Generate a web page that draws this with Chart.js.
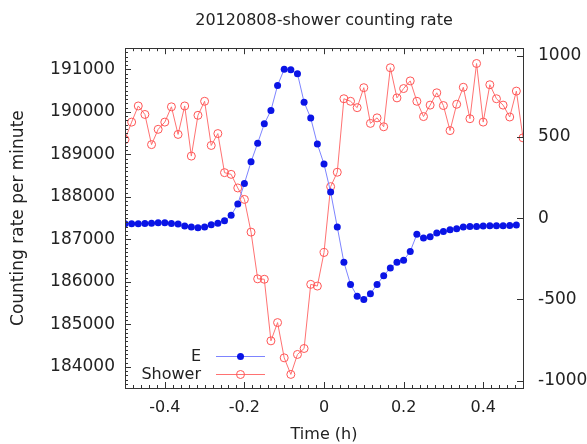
<!DOCTYPE html>
<html>
<head>
<meta charset="utf-8">
<title>Shower counting rate</title>
<script src="https://cdn.jsdelivr.net/npm/chart.js@4/dist/chart.umd.min.js"></script>
<style>
  html, body { margin: 0; padding: 0; background: #fff; }
</style>
</head>
<body>
<canvas id="rate-chart" width="587" height="444"></canvas>
<script>
// minutes relative to the event, one sample per minute
var minutes = [-30, -29, -28, -27, -26, -25, -24, -23, -22, -21,
               -20, -19, -18, -17, -16, -15, -14, -13, -12, -11,
               -10, -9, -8, -7, -6, -5, -4, -3, -2, -1,
               0, 1, 2, 3, 4, 5, 6, 7, 8, 9,
               10, 11, 12, 13, 14, 15, 16, 17, 18, 19,
               20, 21, 22, 23, 24, 25, 26, 27, 28, 29,
               30];

// shower counts per minute (left axis)
var showerRate = [189350, 189760, 190140, 189940, 189230, 189590, 189760, 190120, 189470, 190140,
                  188960, 189920, 190250, 189210, 189490, 188570, 188530, 188210, 187940, 187170,
                  186070, 186060, 184610, 185040, 184210, 183820, 184290, 184430, 185940, 185900,
                  186690, 188240, 188580, 190310, 190250, 190100, 190570, 189730, 189860, 189650,
                  191040, 190330, 190550, 190730, 190250, 189890, 190160, 190450, 190150, 189560,
                  190180, 190580, 189840, 191140, 189760, 190640, 190310, 190160, 189880, 190490,
                  189390];

// field E (right axis), minutes -30 .. 29
var fieldE = [-34, -34, -34, -33, -31, -28, -28, -33, -37, -49,
              -55, -59, -55, -41, -31, -17, 17, 86, 213, 346,
              461, 580, 662, 816, 915, 912, 888, 713, 615, 455,
              332, 160, -55, -272, -408, -481, -500, -465, -408, -354,
              -307, -271, -260, -205, -100, -122, -114, -91, -82, -71,
              -65, -55, -51, -51, -49, -47, -47, -47, -45, -43];

var timeTicks = [-0.4, -0.2, 0, 0.2, 0.4];
var rateTicks = [184000, 185000, 186000, 187000, 188000, 189000, 190000, 191000];
var fieldTicks = [-1000, -500, 0, 500, 1000];

var FONT = 'DejaVu Sans';
Chart.defaults.font.family = FONT;
Chart.defaults.color = '#222';

function toPoints(vals) {
  var pts = [];
  for (var i = 0; i < vals.length; i++) {
    pts.push({ x: minutes[i] / 60, y: vals[i] });
  }
  return pts;
}

function fixedTicks(list) {
  return function(scale) {
    scale.ticks = list.map(function(v) { return { value: v }; });
  };
}

// box around the plot with small inward ticks, gnuplot style
var frameTicks = {
  id: 'frameTicks',
  afterDraw: function(chart) {
    var ctx = chart.ctx, a = chart.chartArea;
    var sx = chart.scales.x, sl = chart.scales.rate, sr = chart.scales.field;
    var i, p, len;
    ctx.save();
    ctx.strokeStyle = '#333';
    ctx.lineWidth = 1;
    ctx.beginPath();
    // time axis, bottom and top: minor every 0.02 h
    for (i = -25; i <= 25; i++) {
      p = Math.round(sx.getPixelForValue(i / 50)) + 0.5;
      len = (i % 10 === 0) ? 6 : 3;
      ctx.moveTo(p, a.bottom); ctx.lineTo(p, a.bottom - len);
      ctx.moveTo(p, a.top); ctx.lineTo(p, a.top + len);
    }
    // counting rate axis: minor every 100
    for (i = sl.min; i <= sl.max; i += 100) {
      p = Math.round(sl.getPixelForValue(i)) + 0.5;
      len = (i % 1000 === 0) ? 6 : 3;
      ctx.moveTo(a.left, p); ctx.lineTo(a.left + len, p);
    }
    // field axis: majors only
    fieldTicks.forEach(function(v) {
      p = Math.round(sr.getPixelForValue(v)) + 0.5;
      ctx.moveTo(a.right, p); ctx.lineTo(a.right - 6, p);
    });
    ctx.stroke();
    ctx.strokeRect(Math.round(a.left) + 0.5, Math.round(a.top) + 0.5,
                   Math.round(a.right - a.left), Math.round(a.bottom - a.top));
    ctx.restore();
  }
};

// key in the lower left corner, text right-justified before the sample
var insideKey = {
  id: 'insideKey',
  afterDraw: function(chart) {
    var ctx = chart.ctx, a = chart.chartArea;
    var textRight = a.left + 76, x0 = a.left + 91, x1 = a.left + 140;
    var rows = [a.bottom - 32, a.bottom - 14];
    ctx.save();
    ctx.font = '16px "' + FONT + '"';
    ctx.textAlign = 'right';
    ctx.textBaseline = 'middle';
    chart.data.datasets.forEach(function(ds, i) {
      var y = rows[i], xm = (x0 + x1) / 2;
      ctx.fillStyle = '#222';
      ctx.fillText(ds.label, textRight, y + 1);
      ctx.strokeStyle = ds.borderColor;
      ctx.lineWidth = ds.borderWidth;
      ctx.beginPath();
      ctx.moveTo(x0, y + 0.5); ctx.lineTo(x1, y + 0.5);
      ctx.stroke();
      ctx.beginPath();
      ctx.arc(xm, y + 0.5, ds.pointRadius, 0, Math.PI * 2);
      ctx.fillStyle = ds.pointBackgroundColor;
      ctx.fill();
      ctx.strokeStyle = ds.pointBorderColor;
      ctx.lineWidth = ds.pointBorderWidth || 0.01;
      ctx.stroke();
    });
    ctx.restore();
  }
};

var ctx = document.getElementById('rate-chart');
var rateChart = new Chart(ctx, {
  type: 'line',
  data: {
    datasets: [
      {
        label: 'E',
        data: toPoints(fieldE),
        yAxisID: 'field',
        borderColor: '#7d84ff',
        borderWidth: 1,
        pointRadius: 3.5,
        pointBackgroundColor: '#0a14e6',
        pointBorderColor: '#0a14e6',
        pointBorderWidth: 0,
        tension: 0
      },
      {
        label: 'Shower',
        data: toPoints(showerRate),
        yAxisID: 'rate',
        borderColor: '#ff7272',
        borderWidth: 1,
        pointRadius: 4,
        pointBackgroundColor: 'rgba(255,255,255,0)',
        pointBorderColor: '#ff5555',
        pointBorderWidth: 1,
        tension: 0
      }
    ]
  },
  options: {
    responsive: false,
    animation: false,
    layout: { padding: 0 },
    plugins: {
      legend: { display: false },
      tooltip: { enabled: false },
      title: {
        display: true,
        fullSize: false,
        text: '20120808-shower counting rate',
        font: { size: 16, weight: 'normal' },
        color: '#222',
        padding: { top: 11, bottom: 18 }
      }
    },
    scales: {
      x: {
        type: 'linear',
        min: -0.5,
        max: 0.5,
        afterBuildTicks: fixedTicks(timeTicks),
        afterFit: function(s) { s.height = 56; },
        grid: { display: false, drawTicks: false },
        border: { display: false },
        ticks: {
          padding: 10,
          font: { size: 16 },
          callback: function(v) { return String(v); }
        },
        title: { display: true, text: 'Time (h)', font: { size: 16 }, padding: 0 }
      },
      rate: {
        type: 'linear',
        position: 'left',
        min: 183500,
        max: 191500,
        afterBuildTicks: fixedTicks(rateTicks),
        afterFit: function(s) { s.width = 125; },
        grid: { display: false, drawTicks: false },
        border: { display: false },
        ticks: {
          padding: 10,
          font: { size: 17 },
          callback: function(v) { return String(v); }
        },
        title: {
          display: true,
          text: 'Counting rate per minute',
          font: { size: 17 },
          padding: { top: 8, bottom: 0 }
        }
      },
      field: {
        type: 'linear',
        position: 'right',
        min: -1045,
        max: 1045,
        afterBuildTicks: fixedTicks(fieldTicks),
        afterFit: function(s) { s.width = 64; },
        grid: { display: false, drawTicks: false },
        border: { display: false },
        ticks: {
          padding: 15,
          font: { size: 17 },
          callback: function(v) { return String(v); }
        }
      }
    }
  },
  plugins: [frameTicks, insideKey]
});
</script>
</body>
</html>
